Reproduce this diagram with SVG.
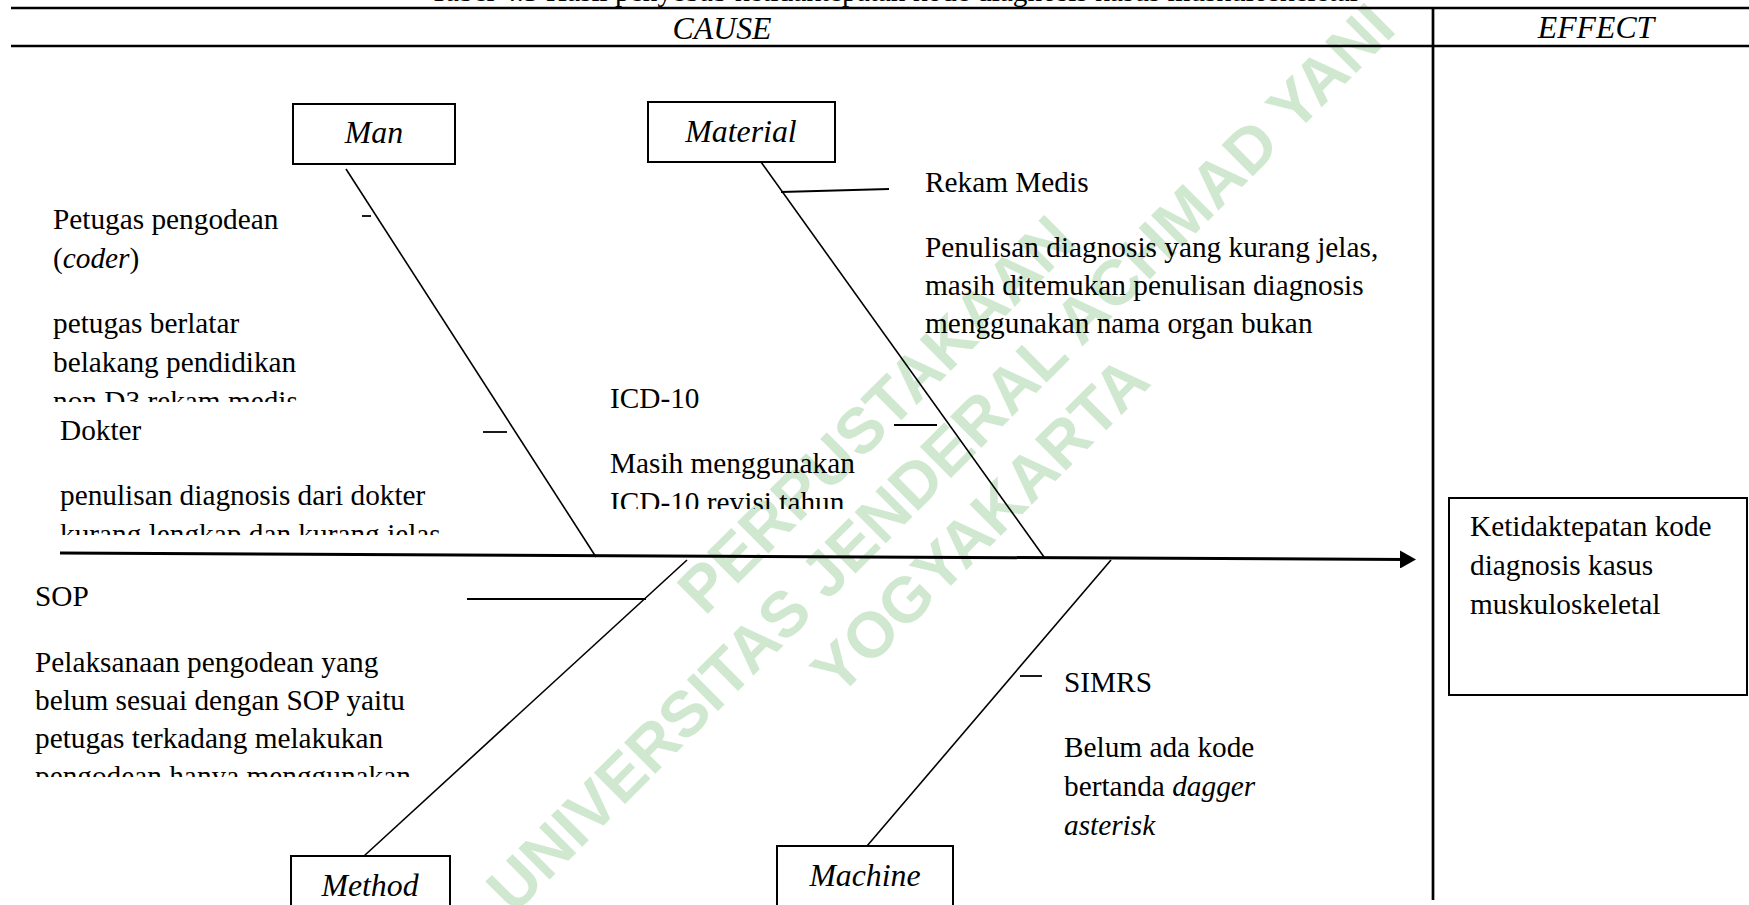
<svg xmlns="http://www.w3.org/2000/svg" width="1749" height="905" viewBox="0 0 1749 905">
<style>
  .t { font-family: "Liberation Serif", "Times New Roman", serif; font-size: 29.3px; fill: #000; }
  .i { font-style: italic; }
  .lbl { font-family: "Liberation Serif", "Times New Roman", serif; font-size: 31.8px; font-style: italic; fill: #000; text-anchor: middle; }
  .box { fill: none; stroke: #000; stroke-width: 2; }
  .rule { stroke: #000; stroke-width: 2.7; fill: none; }
  .bone { stroke: #000; stroke-width: 1.6; fill: none; }
  .tick { stroke: #000; stroke-width: 1.8; fill: none; }
  .spine { stroke: #000; stroke-width: 3; fill: none; }
  .wm { font-family: "Liberation Sans", Arial, sans-serif; font-weight: bold; font-size: 64px; fill: #cfe8cf; text-anchor: middle; }
</style>
<defs>
  <marker id="arrow" markerUnits="userSpaceOnUse" markerWidth="16" markerHeight="18" refX="6" refY="9" orient="auto">
    <path d="M0,0 L16,9 L0,18 z" fill="#000"/>
  </marker>
  <clipPath id="clipA"><rect x="40" y="380" width="320" height="22"/></clipPath>
  <clipPath id="clipB"><rect x="40" y="510" width="460" height="25"/></clipPath>
  <clipPath id="clipC"><rect x="600" y="485" width="300" height="24"/></clipPath>
  <clipPath id="clipD"><rect x="20" y="760" width="460" height="17"/></clipPath>
</defs>
<rect width="1749" height="905" fill="#fff"/>

<g id="watermark" transform="rotate(-45 956 473)">
  <text class="wm" x="941" y="397">PERPUSTAKAAN</text>
  <text class="wm" x="956" y="473">UNIVERSITAS JENDERAL ACHMAD YANI</text>
  <text class="wm" x="936" y="549">YOGYAKARTA</text>
</g>

<g id="header">
  <text class="t" x="430" y="1">Tabel 4.3 Hasil penyebab ketidaktepatan kode diagnosis kasus muskuloskeletal</text>
  <line class="rule" x1="11" y1="8" x2="1749" y2="8"/>
  <line class="rule" x1="11" y1="46" x2="1749" y2="46"/>
  <line class="rule" x1="1433" y1="8" x2="1433" y2="900"/>
  <text class="lbl" x="722" y="39">CAUSE</text>
  <text class="lbl" x="1596" y="38">EFFECT</text>
</g>

<g id="connectors">
  <line class="spine" x1="60" y1="553" x2="1406" y2="559.5" marker-end="url(#arrow)"/>
  <line class="bone" x1="346" y1="169" x2="596" y2="557"/>
  <line class="bone" x1="761" y1="162" x2="1044" y2="557"/>
  <line class="bone" x1="687" y1="560" x2="364" y2="856"/>
  <line class="bone" x1="1111" y1="560" x2="867" y2="846"/>
  <line class="tick" x1="362" y1="216" x2="371" y2="216"/>
  <line class="tick" x1="483" y1="432" x2="507" y2="432"/>
  <line class="tick" x1="781" y1="192" x2="889" y2="189"/>
  <line class="tick" x1="894" y1="425" x2="937" y2="425"/>
  <line class="tick" x1="467" y1="599" x2="646" y2="599"/>
  <line class="tick" x1="1020" y1="676" x2="1042" y2="676"/>
</g>

<g id="node-man">
  <rect class="box" x="293" y="104" width="162" height="60"/>
  <text class="lbl" x="374" y="143">Man</text>
</g>
<g id="node-material">
  <rect class="box" x="648" y="102" width="187" height="60"/>
  <text class="lbl" x="741" y="142">Material</text>
</g>
<g id="node-method">
  <rect class="box" x="291" y="856" width="159" height="70"/>
  <text class="lbl" x="370" y="896">Method</text>
</g>
<g id="node-machine">
  <rect class="box" x="777" y="846" width="176" height="80"/>
  <text class="lbl" x="865" y="886">Machine</text>
</g>
<g id="node-effect">
  <rect class="box" x="1449" y="498" width="298" height="197"/>
  <text class="t" x="1470" y="536">Ketidaktepatan kode</text>
  <text class="t" x="1470" y="575">diagnosis kasus</text>
  <text class="t" x="1470" y="614">muskuloskeletal</text>
</g>

<g id="cause-coder">
  <text class="t" x="53" y="229">Petugas pengodean</text>
  <text class="t" x="53" y="268">(<tspan class="i">coder</tspan>)</text>
  <text class="t" x="53" y="333">petugas berlatar</text>
  <text class="t" x="53" y="372">belakang pendidikan</text>
  <text class="t" x="53" y="411" clip-path="url(#clipA)">non D3 rekam medis</text>
</g>
<g id="cause-dokter">
  <text class="t" x="60" y="440">Dokter</text>
  <text class="t" x="60" y="505">penulisan diagnosis dari dokter</text>
  <text class="t" x="60" y="544" clip-path="url(#clipB)">kurang lengkap dan kurang jelas</text>
</g>
<g id="cause-rekam-medis">
  <text class="t" x="925" y="192">Rekam Medis</text>
  <text class="t" x="925" y="257">Penulisan diagnosis yang kurang jelas,</text>
  <text class="t" x="925" y="295">masih ditemukan penulisan diagnosis</text>
  <text class="t" x="925" y="333">menggunakan nama organ bukan</text>
</g>
<g id="cause-icd">
  <text class="t" x="610" y="408">ICD-10</text>
  <text class="t" x="610" y="473">Masih menggunakan</text>
  <text class="t" x="610" y="512" clip-path="url(#clipC)">ICD-10 revisi tahun</text>
</g>
<g id="cause-sop">
  <text class="t" x="35" y="606">SOP</text>
  <text class="t" x="35" y="672">Pelaksanaan pengodean yang</text>
  <text class="t" x="35" y="710">belum sesuai dengan SOP yaitu</text>
  <text class="t" x="35" y="748">petugas terkadang melakukan</text>
  <text class="t" x="35" y="786" clip-path="url(#clipD)">pengodean hanya menggunakan</text>
</g>
<g id="cause-simrs">
  <text class="t" x="1064" y="692">SIMRS</text>
  <text class="t" x="1064" y="757">Belum ada kode</text>
  <text class="t" x="1064" y="796">bertanda <tspan class="i">dagger</tspan></text>
  <text class="t i" x="1064" y="835">asterisk</text>
</g>
</svg>
